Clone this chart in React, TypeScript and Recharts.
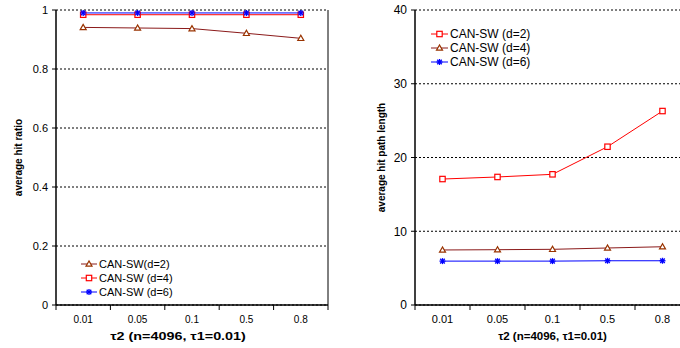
import React from 'react'
import { LineChart, Line, XAxis, YAxis, CartesianGrid, ReferenceLine, Legend } from 'recharts'

const categories = ['0.01', '0.05', '0.1', '0.5', '0.8']

// hit ratio (left)
const ratioD2 = [0.941, 0.939, 0.937, 0.921, 0.904]
const ratioD4 = [0.984, 0.984, 0.984, 0.984, 0.984]
const ratioD6 = [0.99, 0.99, 0.99, 0.99, 0.99]

// hit path length (right)
const pathD2 = [17.08, 17.36, 17.72, 21.46, 26.3]
const pathD4 = [7.46, 7.5, 7.55, 7.73, 7.9]
const pathD6 = [5.95, 5.95, 5.95, 6.0, 6.0]

const ratioTicks = [0, 0.2, 0.4, 0.6, 0.8, 1]
const pathTicks = [0, 10, 20, 30, 40]
const xTicks = [-0.5, 0, 0.5, 1, 1.5, 2, 2.5, 3, 3.5, 4, 4.5]

const BROWN = '#993300'
const BROWN_LINE = '#8b1a1a'
const RED = '#ff0000'
const BLUE = '#0000ff'

const ratioData = categories.map((c, i) => ({ i, d2: ratioD2[i], d4: ratioD4[i], d6: ratioD6[i] }))
const pathData = categories.map((c, i) => ({ i, d2: pathD2[i], d4: pathD4[i], d6: pathD6[i] }))

type Marker = 'tri' | 'sq' | 'star'

function MarkerShape({ cx, cy, kind, color }: { cx: number; cy: number; kind: Marker; color: string }) {
  if (kind === 'tri') {
    return (
      <polygon
        points={`${cx},${cy - 3} ${cx - 3},${cy + 2.2} ${cx + 3},${cy + 2.2}`}
        fill="#fff"
        stroke={color}
        strokeWidth={1.2}
      />
    )
  }
  if (kind === 'sq') {
    return <rect x={cx - 2.7} y={cy - 2.7} width={5.4} height={5.4} fill="#fff" stroke={color} strokeWidth={1.2} />
  }
  const r = 3
  return (
    <g stroke={color} strokeWidth={1.3}>
      <line x1={cx - r} y1={cy} x2={cx + r} y2={cy} />
      <line x1={cx} y1={cy - r} x2={cx} y2={cy + r} />
      <line x1={cx - 2.3} y1={cy - 2.3} x2={cx + 2.3} y2={cy + 2.3} />
      <line x1={cx - 2.3} y1={cy + 2.3} x2={cx + 2.3} y2={cy - 2.3} />
    </g>
  )
}

const dotFn = (kind: Marker, color: string) => (props: any) => (
  <MarkerShape key={props.index} cx={props.cx} cy={props.cy} kind={kind} color={color} />
)

const XTick = ({ x, y, payload, fontSize }: any) => {
  const v = payload.value
  if (Number.isInteger(v)) {
    return (
      <text x={x} y={y + 18} textAnchor="middle" fontSize={fontSize} fill="#000">
        {categories[v]}
      </text>
    )
  }
  return <line x1={x} x2={x} y1={y} y2={y + 5} stroke="#000" />
}

interface LegendItem {
  name: string
  kind: Marker
  color: string
  lineColor: string
}

const LegendBox = ({ items, fontSize, iconW }: { items: LegendItem[]; fontSize: number; iconW: number }) => (
  <div style={{ fontSize, color: '#000', lineHeight: '14px' }}>
    {items.map((it) => (
      <div key={it.name} style={{ display: 'flex', alignItems: 'center', height: 14 }}>
        <svg width={iconW} height={14} style={{ display: 'block' }}>
          <line x1={0} x2={iconW} y1={7} y2={7} stroke={it.lineColor} strokeWidth={1} />
          <MarkerShape cx={iconW / 2} cy={7} kind={it.kind} color={it.color} />
        </svg>
        <span style={{ marginLeft: 2, whiteSpace: 'nowrap' }}>{it.name}</span>
      </div>
    ))}
  </div>
)

const leftLegend: LegendItem[] = [
  { name: 'CAN-SW(d=2)', kind: 'tri', color: BROWN, lineColor: BROWN_LINE },
  { name: 'CAN-SW (d=4)', kind: 'sq', color: RED, lineColor: RED },
  { name: 'CAN-SW (d=6)', kind: 'star', color: BLUE, lineColor: BLUE },
]

const rightLegend: LegendItem[] = [
  { name: 'CAN-SW (d=2)', kind: 'sq', color: RED, lineColor: RED },
  { name: 'CAN-SW (d=4)', kind: 'tri', color: BROWN, lineColor: BROWN_LINE },
  { name: 'CAN-SW (d=6)', kind: 'star', color: BLUE, lineColor: BLUE },
]

const yTitle = (text: string, dx: number) => (props: any) => {
  const vb = props.viewBox
  const cx = vb.x + dx
  const cy = vb.y + vb.height / 2
  return (
    <text
      x={cx}
      y={cy}
      transform={`rotate(-90, ${cx}, ${cy})`}
      textAnchor="middle"
      dominantBaseline="central"
      fontSize={10}
      fontWeight="bold"
      fill="#000"
    >
      {text}
    </text>
  )
}

const xTitle = (dx: number, fontSize: number, stretch: number) => (props: any) => {
  const vb = props.viewBox
  const cx = vb.x + vb.width / 2 + dx
  const cy = vb.y + 35
  return (
    <text
      transform={`translate(${cx}, ${cy}) scale(${stretch}, 1)`}
      x={0}
      y={0}
      textAnchor="middle"
      fontSize={fontSize}
      fontWeight="bold"
      fill="#000"
    >
      τ2 (n=4096, τ1=0.01)
    </text>
  )
}

export default function App() {
  return (
    <div
      style={{
        position: 'fixed',
        left: 0,
        top: 0,
        width: 680,
        height: 348,
        overflow: 'hidden',
        background: '#fff',
        fontFamily: '"Liberation Sans", Arial, sans-serif',
      }}
    >
      <div style={{ position: 'absolute', left: 0, top: 0 }}>
        <LineChart width={340} height={348} data={ratioData} margin={{ top: 10, right: 12, bottom: 0, left: 0 }}>
          <CartesianGrid vertical={false} stroke="#000" strokeDasharray="2 2" />
          <XAxis
            type="number"
            dataKey="i"
            domain={[-0.5, 4.5]}
            ticks={xTicks}
            interval={0}
            height={43}
            tickLine={false}
            tickSize={0}
            tickMargin={0}
            axisLine={{ stroke: '#000', strokeWidth: 1.5 }}
            tick={<XTick fontSize={10} />}
            label={{ content: xTitle(-14, 11.5, 1.25) }}
          />
          <YAxis
            domain={[0, 1]}
            ticks={ratioTicks}
            width={56}
            tickSize={4}
            tickMargin={4}
            tick={{ fontSize: 11, fill: '#000' }}
            tickLine={{ stroke: '#000' }}
            axisLine={{ stroke: '#000', strokeWidth: 1.5 }}
            label={{ content: yTitle('average hit ratio', 18) }}
          />
          <ReferenceLine x={4.5} stroke="#000" strokeWidth={1} />
          <Line dataKey="d2" stroke={BROWN_LINE} strokeWidth={1} dot={dotFn('tri', BROWN)} isAnimationActive={false} />
          <Line dataKey="d4" stroke={RED} strokeWidth={1} dot={dotFn('sq', RED)} isAnimationActive={false} />
          <Line dataKey="d6" stroke={BLUE} strokeWidth={1} dot={dotFn('star', BLUE)} isAnimationActive={false} />
          <Legend
            layout="vertical"
            align="center"
            verticalAlign="middle"
            wrapperStyle={{ left: 81, top: 257, width: 'auto' }}
            content={() => <LegendBox items={leftLegend} fontSize={11} iconW={16} />}
          />
        </LineChart>
      </div>
      <div style={{ position: 'absolute', left: 340, top: 0 }}>
        <LineChart width={352} height={348} data={pathData} margin={{ top: 10, right: 2, bottom: 0, left: 0 }}>
          <CartesianGrid vertical={false} stroke="#000" strokeDasharray="2 2" />
          <XAxis
            type="number"
            dataKey="i"
            domain={[-0.5, 4.5]}
            ticks={xTicks}
            interval={0}
            height={43}
            tickLine={false}
            tickSize={0}
            tickMargin={0}
            axisLine={{ stroke: '#000', strokeWidth: 1.5 }}
            tick={<XTick fontSize={11} />}
            label={{ content: xTitle(0, 11.5, 1) }}
          />
          <YAxis
            domain={[0, 40]}
            ticks={pathTicks}
            width={75}
            tickSize={4}
            tickMargin={4}
            tick={{ fontSize: 12, fill: '#000' }}
            tickLine={{ stroke: '#000' }}
            axisLine={{ stroke: '#000', strokeWidth: 1.5 }}
            label={{ content: yTitle('average hit path length', 41) }}
          />
          <Line dataKey="d2" stroke={RED} strokeWidth={1} dot={dotFn('sq', RED)} isAnimationActive={false} />
          <Line dataKey="d4" stroke={BROWN_LINE} strokeWidth={1} dot={dotFn('tri', BROWN)} isAnimationActive={false} />
          <Line dataKey="d6" stroke={BLUE} strokeWidth={1} dot={dotFn('star', BLUE)} isAnimationActive={false} />
          <Legend
            layout="vertical"
            align="center"
            verticalAlign="middle"
            wrapperStyle={{ left: 91, top: 27, width: 'auto' }}
            content={() => <LegendBox items={rightLegend} fontSize={12} iconW={17} />}
          />
        </LineChart>
      </div>
    </div>
  )
}
